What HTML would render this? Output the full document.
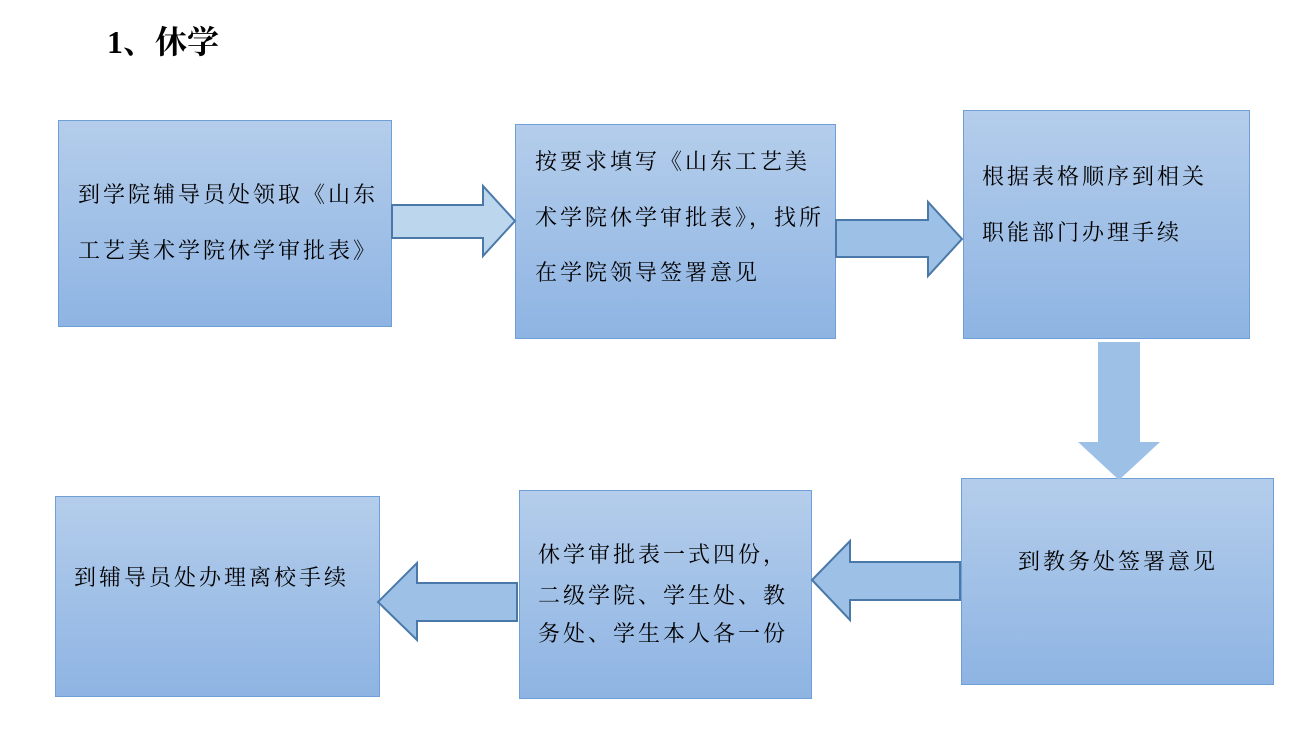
<!DOCTYPE html>
<html><head><meta charset="utf-8"><style>
body{margin:0;width:1314px;height:734px;background:#fff;position:relative;overflow:hidden;font-family:"Liberation Serif","Noto Serif CJK SC",serif;}
.b{position:absolute;box-sizing:border-box;border:1px solid #6f9fd6;background:linear-gradient(#b4cdeb,#8eb4e3);}
.t{position:absolute;font-size:22px;letter-spacing:3px;white-space:nowrap;color:#000;line-height:1;}
svg{position:absolute;left:0;top:0}
</style></head><body>
<div class="t" style="left:107px;top:26px;font-size:32px;font-weight:bold;letter-spacing:0">1、休学</div>
<div class="b" style="left:58px;top:120px;width:334px;height:207px"></div>
<div class="b" style="left:515px;top:124px;width:321px;height:215px"></div>
<div class="b" style="left:963px;top:110px;width:287px;height:229px"></div>
<div class="b" style="left:961px;top:478px;width:313px;height:207px"></div>
<div class="b" style="left:519px;top:490px;width:293px;height:209px"></div>
<div class="b" style="left:55px;top:496px;width:325px;height:201px"></div>
<svg width="1314" height="734">
<g stroke="#4a78a8" stroke-width="2" stroke-linejoin="miter">
<polygon fill="#bcd6ee" points="392,205 483,205 483,186 515,221 483,256 483,238 392,238"/>
<polygon fill="#9dc1e6" points="836,220 928,220 928,202 962,239 928,276 928,257 836,257"/>
<polygon fill="#9dc1e6" stroke="none" points="1098,342 1140,342 1140,442 1160,442 1119,480 1078,442 1098,442"/>
<polygon fill="#9dc1e6" points="960,562 850,562 850,541 812,580 850,620 850,600 960,600"/>
<polygon fill="#9dc1e6" points="517,583 417,583 417,563 378,602 417,640 417,621 517,621"/>
</g>
</svg>
<div class="t" style="left:78px;top:184px">到学院辅导员处领取《山东</div>
<div class="t" style="left:78px;top:240px">工艺美术学院休学审批表》</div>
<div class="t" style="left:535px;top:151px">按要求填写《山东工艺美</div>
<div class="t" style="left:535px;top:207px">术学院休学审批表》，找所</div>
<div class="t" style="left:535px;top:262px">在学院领导签署意见</div>
<div class="t" style="left:982px;top:166px">根据表格顺序到相关</div>
<div class="t" style="left:982px;top:222px">职能部门办理手续</div>
<div class="t" style="left:1018px;top:551px">到教务处签署意见</div>
<div class="t" style="left:538px;top:544px">休学审批表一式四份，</div>
<div class="t" style="left:538px;top:585px">二级学院、学生处、教</div>
<div class="t" style="left:538px;top:623px">务处、学生本人各一份</div>
<div class="t" style="left:74px;top:567px">到辅导员处办理离校手续</div>
</body></html>
